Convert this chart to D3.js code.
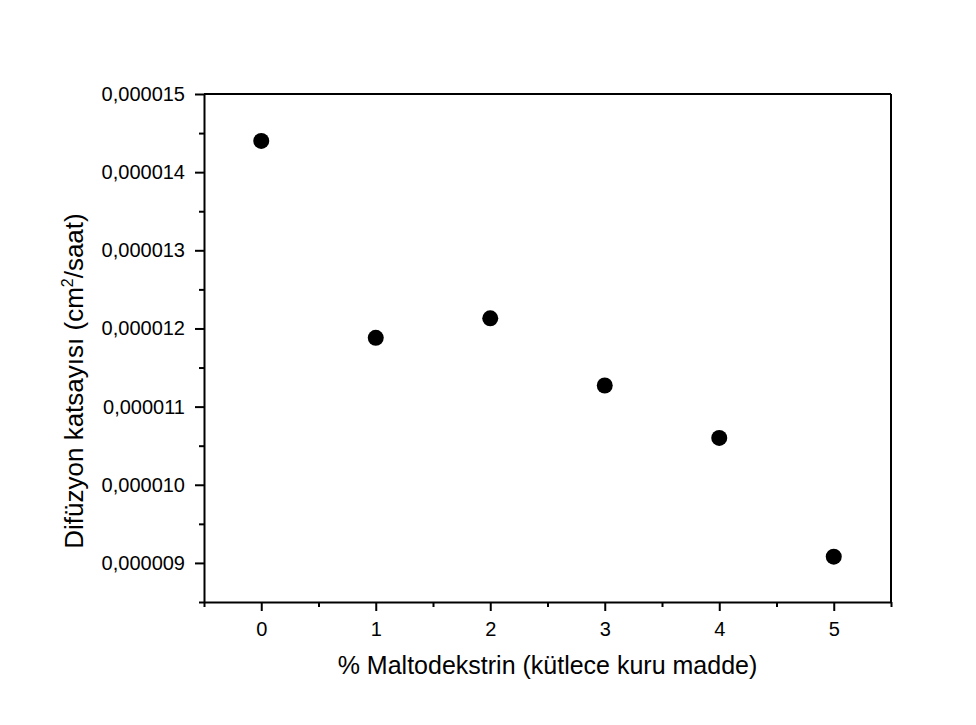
<!DOCTYPE html>
<html>
<head>
<meta charset="utf-8">
<script src="https://cdn.jsdelivr.net/npm/d3@7"></script>
<style>
  html, body { margin: 0; padding: 0; background: #fff; }
  svg { display: block; font-family: "Liberation Sans", Arial, sans-serif; }
</style>
</head>
<body>
<svg id="chart" width="976" height="725"></svg>
<script>
// Maltodextrin concentration (% dry mass) and diffusion coefficient (cm²/h)
const maltodextrin = [0, 1, 2, 3, 4, 5];
const diffusivity = [14.40e-6, 11.88e-6, 12.13e-6, 11.27e-6, 10.60e-6, 9.08e-6];

const xTicks = [0, 1, 2, 3, 4, 5];
const yTicks = [9e-6, 10e-6, 11e-6, 12e-6, 13e-6, 14e-6, 15e-6];
const yTickLabels = ["0,000009", "0,000010", "0,000011", "0,000012", "0,000013", "0,000014", "0,000015"];

const svg = d3.select("#chart");
const plotLeft = 204, plotRight = 891, plotTop = 94, plotBottom = 602;

const x = d3.scaleLinear().domain([-0.5, 5.5]).range([plotLeft, plotRight]);
const y = d3.scaleLinear().domain([8.5e-6, 15e-6]).range([plotBottom, plotTop]);

const xMinor = d3.range(-0.5, 5.51, 0.5).filter(v => !xTicks.includes(v));
const yMinor = d3.range(8.5, 15.01, 0.5).map(v => v * 1e-6)
  .filter(v => !yTicks.some(t => Math.abs(t - v) < 1e-9));

// frame: top and right edges
svg.append("line").attr("x1", plotLeft).attr("x2", plotRight).attr("y1", plotTop).attr("y2", plotTop)
  .attr("stroke", "#000").attr("stroke-width", 2);
svg.append("line").attr("x1", plotRight).attr("x2", plotRight).attr("y1", plotTop).attr("y2", plotBottom)
  .attr("stroke", "#000").attr("stroke-width", 2);

// bottom axis: major ticks with labels, then minor ticks
svg.append("g").attr("transform", `translate(0,${plotBottom})`)
  .call(d3.axisBottom(x).tickValues(xTicks).tickFormat(d3.format("d"))
    .tickSizeInner(9).tickSizeOuter(0).tickPadding(11));
svg.append("g").attr("transform", `translate(0,${plotBottom})`)
  .call(d3.axisBottom(x).tickValues(xMinor).tickFormat("").tickSizeInner(5).tickSizeOuter(0))
  .select(".domain").remove();

// left axis: major ticks with labels, then minor ticks
svg.append("g").attr("transform", `translate(${plotLeft},0)`)
  .call(d3.axisLeft(y).tickValues(yTicks).tickFormat((d, i) => yTickLabels[i])
    .tickSizeInner(9).tickSizeOuter(0).tickPadding(10));
svg.append("g").attr("transform", `translate(${plotLeft},0)`)
  .call(d3.axisLeft(y).tickValues(yMinor).tickFormat("").tickSizeInner(5).tickSizeOuter(0))
  .select(".domain").remove();

svg.selectAll(".domain").attr("stroke", "#000").attr("stroke-width", 2);
svg.selectAll(".tick line").attr("stroke", "#000").attr("stroke-width", 2);
svg.selectAll(".tick text").attr("fill", "#000")
  .style("font-family", "'Liberation Sans', Arial, sans-serif").style("font-size", "20px");

// data points
svg.append("g").selectAll("circle")
  .data(maltodextrin.map((m, i) => [m, diffusivity[i]]))
  .join("circle")
  .attr("cx", d => x(d[0]))
  .attr("cy", d => y(d[1]))
  .attr("r", 8)
  .attr("fill", "#000");

// axis titles
svg.append("text")
  .attr("x", (plotLeft + plotRight) / 2).attr("y", 674)
  .attr("text-anchor", "middle")
  .style("font-size", "25px").attr("fill", "#000")
  .text("% Maltodekstrin (kütlece kuru madde)");

const yTitle = svg.append("text")
  .attr("transform", "translate(83,381) rotate(-90)")
  .attr("text-anchor", "middle")
  .style("font-size", "26px").attr("fill", "#000");
yTitle.append("tspan").text("Difüzyon katsayısı (cm");
yTitle.append("tspan").attr("dy", -10).style("font-size", "16px").text("2");
yTitle.append("tspan").attr("dy", 10).text("/saat)");
</script>
</body>
</html>
